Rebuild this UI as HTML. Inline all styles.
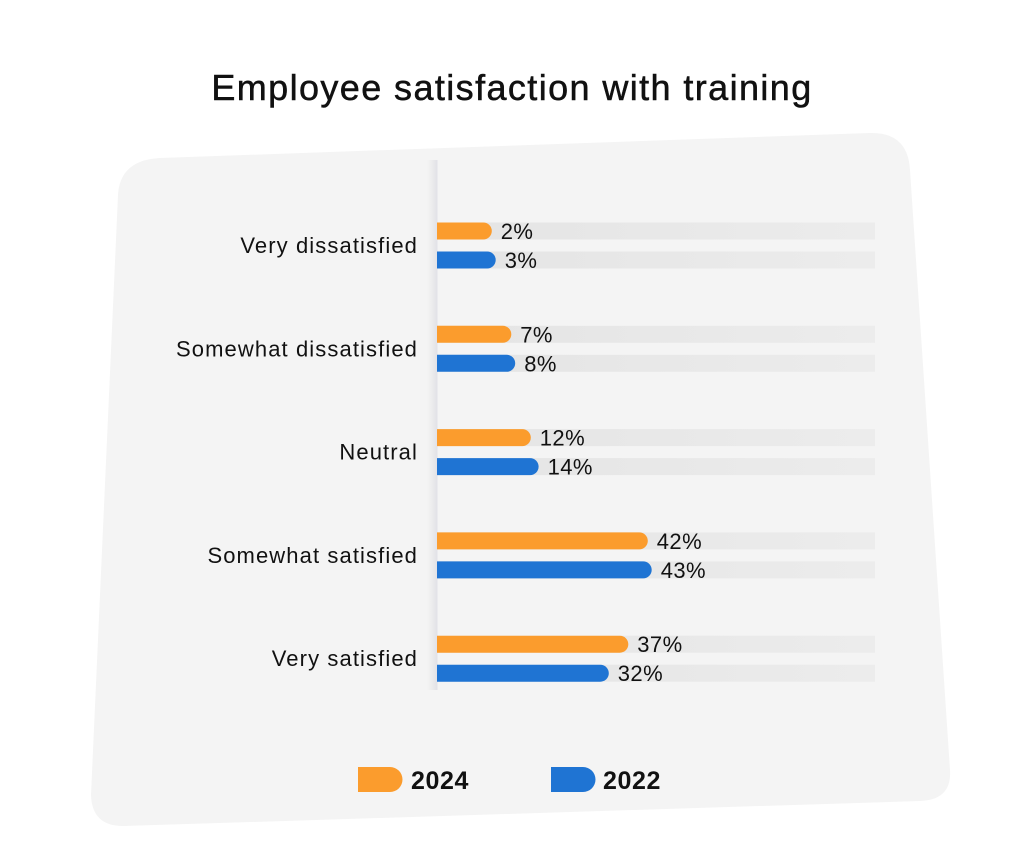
<!DOCTYPE html>
<html><head><meta charset="utf-8">
<style>
html,body{margin:0;padding:0;background:#fff;width:1024px;height:866px;overflow:hidden;font-family:"Liberation Sans",sans-serif;}
svg{display:block}
</style></head>
<body>
<svg id="chart" width="1024" height="866">
  <defs>
    <linearGradient id="axshadow" x1="0" x2="1">
      <stop offset="0" stop-color="#dcdcdc" stop-opacity="0"/>
      <stop offset="1" stop-color="#d6d6de" stop-opacity="0.6"/>
    </linearGradient>
    <linearGradient id="track" x1="0" x2="1">
      <stop offset="0" stop-color="#e4e4e4"/>
      <stop offset="1" stop-color="#ececec"/>
    </linearGradient>
  </defs>
  <text x="512" y="100" text-anchor="middle" font-size="36" letter-spacing="1.4" fill="#111" stroke="#111" stroke-width="0.5">Employee satisfaction with training</text>
  <path d="M160 158 L870 133 Q908 132 910 170 L950 770 Q952 800 920 801 L125 826 Q92 827 91 795 L118 195 Q120 160 160 158 Z" fill="#f4f4f4"/>
  <rect x="427" y="160" width="10" height="530" fill="url(#axshadow)"/>
  <line x1="437" y1="160" x2="437" y2="690" stroke="#e2e2e8" stroke-width="1"/>
  <g id="bars"></g>
  <g>
    <path d="M358 767 H390 A12.5 12.5 0 0 1 390 792 H358 Z" fill="#fb9c2d"/>
    <text x="411" y="789" font-size="25" font-weight="bold" letter-spacing="0.6" fill="#111">2024</text>
    <path d="M551 767 H583 A12.5 12.5 0 0 1 583 792 H551 Z" fill="#1f74d3"/>
    <text x="603" y="789" font-size="25" font-weight="bold" letter-spacing="0.6" fill="#111">2022</text>
  </g>
</svg>
<script>
const categories = ["Very dissatisfied","Somewhat dissatisfied","Neutral","Somewhat satisfied","Very satisfied"];
const values2024 = [2,7,12,42,37];
const values2022 = [3,8,14,43,32];
const valueLabels2024 = ["2%","7%","12%","42%","37%"];
const valueLabels2022 = ["3%","8%","14%","43%","32%"];

const NS = "http://www.w3.org/2000/svg";
const g = document.getElementById("bars");
const x0 = 437, minW = 47, perPct = 3.9, trackEnd = 875, barH = 17;
function xw(v){ return minW + perPct*v; }
function yc(i){ return 231 + i*103.3; }
function mk(tag, attrs){ const e=document.createElementNS(NS,tag); for(const k in attrs) e.setAttribute(k,attrs[k]); g.appendChild(e); return e; }
function barPath(x,y,w,h){ const r=h/2; return `M${x} ${y} H${x+w-r} A${r} ${r} 0 0 1 ${x+w-r} ${y+h} H${x} Z`; }

categories.forEach((c,i)=>{
  const yo = yc(i), yb = yo+29;
  const lab = mk("text",{x:418,y:yo+22,"text-anchor":"end","font-size":22,"letter-spacing":1.1,fill:"#111"});
  lab.textContent = c;
  
  
  [[yo,values2024[i],valueLabels2024[i],"#fb9c2d","2024"],[yb,values2022[i],valueLabels2022[i],"#1f74d3","2022"]].forEach(([y,v,t,col,s])=>{
    const tr = mk("rect",{x:x0,y:y-barH/2,width:trackEnd-x0,height:barH,fill:"url(#track)"});
    
    
    const w = xw(v);
    const b = mk("path",{d:barPath(x0,y-barH/2,w,barH),fill:col});
    
    
    const vt = mk("text",{x:x0+w+9,y:y+8,"font-size":22,"letter-spacing":0.4,fill:"#111"});
    vt.textContent = t;
    
    
  });
});
</script>
</body></html>
